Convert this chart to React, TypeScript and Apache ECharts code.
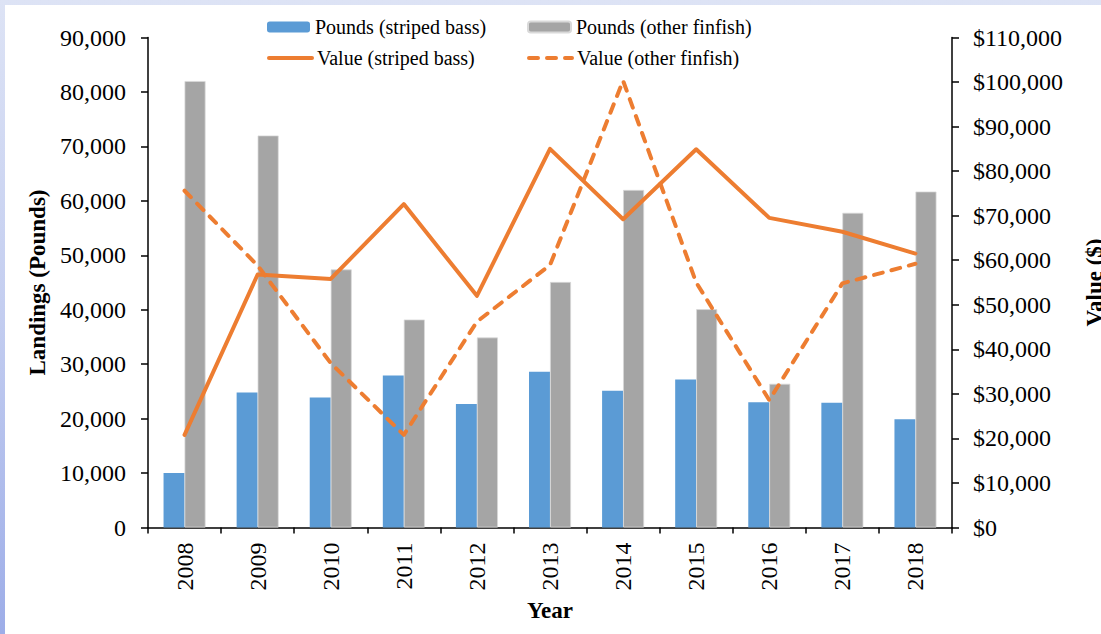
import React, { useEffect, useRef } from "react";
import * as echarts from "echarts";

const years = ["2008", "2009", "2010", "2011", "2012", "2013", "2014", "2015", "2016", "2017", "2018"];
const poundsStripedBass = [10000, 24800, 23900, 27900, 22700, 28600, 25100, 27200, 23000, 22900, 19900];
const poundsOtherFinfish = [82000, 72000, 47400, 38200, 34900, 45100, 62000, 40100, 26400, 57800, 61700];
const valueStripedBass = [20800, 56800, 55800, 72600, 52000, 85000, 69200, 84900, 69500, 66400, 61500];
const valueOtherFinfish = [75600, 58800, 36900, 20800, 46200, 58900, 100300, 55000, 28600, 54800, 59200];

const FONT = "'Liberation Serif', 'Times New Roman', serif";
const BLUE = "#5b9bd5";
const GRAY = "#a5a5a5";
const ORANGE = "#ed7d31";

const fmt = (v: number) => v.toLocaleString("en-US");

export default function App() {
  const ref = useRef<HTMLDivElement>(null);
  useEffect(() => {
    if (!ref.current) return;
    const chart = echarts.init(ref.current, undefined, { renderer: "svg" });
    const legendText = { fontFamily: FONT, fontSize: 20, color: "#000", lineHeight: 22 };
    const legendBase = { padding: 0, itemGap: 0, textStyle: legendText, itemWidth: 43, itemHeight: 11 };
    const lineLegend = { ...legendBase, itemStyle: { opacity: 0 } };
    chart.setOption({
      animation: false,
      grid: { left: 148, right: 149, top: 37.5, bottom: 106.5, containLabel: false, outerBoundsMode: "none" },
      legend: [
        { ...legendBase, left: 267, top: 16, data: ["Pounds (striped bass)"] },
        { ...legendBase, left: 527, top: 16, data: ["Pounds (other finfish)"] },
        {
          ...lineLegend,
          left: 267,
          top: 47,
          data: ["Value (striped bass)"],
          lineStyle: { width: 4, color: ORANGE, cap: "round", type: "solid" },
        },
        {
          ...lineLegend,
          left: 527,
          top: 47,
          data: ["Value (other finfish)"],
          lineStyle: { width: 4, color: ORANGE, cap: "round", type: [9, 9] },
        },
      ],
      xAxis: {
        type: "category",
        data: years,
        name: "Year",
        nameLocation: "middle",
        nameGap: 71,
        nameTextStyle: { fontFamily: FONT, fontSize: 23, fontWeight: "bold", color: "#000" },
        axisLine: { show: true, lineStyle: { color: "#000", width: 1.5 } },
        axisTick: { show: true, length: 6, lineStyle: { color: "#000", width: 1.5 } },
        axisLabel: { rotate: 90, margin: 15, fontFamily: FONT, fontSize: 24, color: "#000" },
        splitLine: { show: false },
      },
      yAxis: [
        {
          type: "value",
          min: 0,
          max: 90000,
          interval: 10000,
          name: "Landings (Pounds)",
          nameLocation: "middle",
          nameRotate: 90,
          nameGap: 97,
          nameTextStyle: { fontFamily: FONT, fontSize: 23, fontWeight: "bold", color: "#000" },
          axisLine: { show: true, lineStyle: { color: "#000", width: 1.5 } },
          axisTick: { show: true, length: 7, lineStyle: { color: "#000", width: 1.5 } },
          axisLabel: { margin: 22, fontFamily: FONT, fontSize: 24, color: "#000", formatter: (v: number) => fmt(v) },
          splitLine: { show: false },
        },
        {
          type: "value",
          min: 0,
          max: 110000,
          interval: 10000,
          position: "right",
          name: "Value ($)",
          nameLocation: "middle",
          nameRotate: 90,
          nameGap: 131,
          nameTextStyle: { fontFamily: FONT, fontSize: 23, fontWeight: "bold", color: "#000" },
          axisLine: { show: true, lineStyle: { color: "#000", width: 1.5 } },
          axisTick: { show: true, length: 7, lineStyle: { color: "#000", width: 1.5 } },
          axisLabel: { margin: 21, fontFamily: FONT, fontSize: 24, color: "#000", formatter: (v: number) => "$" + fmt(v) },
          splitLine: { show: false },
        },
      ],
      series: [
        {
          name: "Pounds (striped bass)",
          type: "bar",
          yAxisIndex: 0,
          data: poundsStripedBass,
          barWidth: 21,
          barGap: "0%",
          itemStyle: { color: BLUE },
        },
        {
          name: "Pounds (other finfish)",
          type: "bar",
          yAxisIndex: 0,
          data: poundsOtherFinfish,
          barWidth: 21,
          barGap: "0%",
          itemStyle: { color: GRAY, borderColor: "#d9d9d9", borderWidth: 0.75 },
        },
        {
          name: "Value (striped bass)",
          type: "line",
          yAxisIndex: 1,
          data: valueStripedBass,
          symbol: "none",
          lineStyle: { color: ORANGE, width: 4, cap: "round", join: "round" },
          itemStyle: { color: ORANGE },
        },
        {
          name: "Value (other finfish)",
          type: "line",
          yAxisIndex: 1,
          data: valueOtherFinfish,
          symbol: "none",
          lineStyle: { color: ORANGE, width: 4, type: [9, 9], cap: "round", join: "round" },
          itemStyle: { color: ORANGE },
        },
      ],
    });
    return () => chart.dispose();
  }, []);

  return (
    <div
      style={{
        position: "fixed",
        left: 0,
        top: 0,
        width: 1101,
        height: 634,
        overflow: "hidden",
        background: "linear-gradient(to bottom, #dde3f5 0%, #c3cdf0 50%, #9dade8 100%)",
      }}
    >
      <div style={{ position: "absolute", left: 5, top: 5, right: 0, bottom: 0, background: "#fff" }} />
      <div ref={ref} style={{ position: "absolute", left: 0, top: 0, width: 1101, height: 634 }} />
    </div>
  );
}
